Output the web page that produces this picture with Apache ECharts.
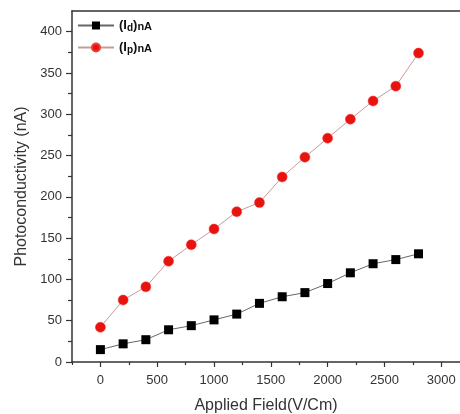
<!DOCTYPE html>
<html>
<head>
<meta charset="utf-8">
<script src="https://cdn.jsdelivr.net/npm/echarts@6/dist/echarts.min.js"></script>
<style>
  html, body { margin: 0; padding: 0; background: #fff; }
  #chart { width: 460px; height: 414px; }
</style>
</head>
<body>
<div id="chart"></div>
<script>
// applied field values (V/Cm)
var fields = [0, 200, 400, 600, 800, 1000, 1200, 1400, 1600, 1800, 2000, 2200, 2400, 2600, 2800];
// dark current Id (nA)
var idValues = [15, 22, 27, 39, 44, 51, 58, 71, 79, 84, 95, 108, 119, 124, 131];
// photo current Ip (nA)
var ipValues = [42, 75, 91, 122, 142, 161, 182, 193, 224, 248, 271, 294, 316, 334, 374];

// tick marks
var xTicks = [0, 500, 1000, 1500, 2000, 2500, 3000];
var xMinorTicks = [-250, 250, 750, 1250, 1750, 2250, 2750];
var yTicks = [0, 50, 100, 150, 200, 250, 300, 350, 400];
var yMinorTicks = [25, 75, 125, 175, 225, 275, 325, 375];

function pairs(xs, ys) {
  return xs.map(function (x, i) { return [x, ys[i]]; });
}

var chart = echarts.init(document.getElementById("chart"));

var axisCol = "#333";
var X_MIN = -250, X_MAX = 3165, Y_MIN = 0, Y_MAX = 425;

var option = {
  animation: false,
  textStyle: { fontFamily: "Liberation Sans, Arial, sans-serif" },
  grid: { left: 72, top: 11, right: 0, bottom: 52, outerBoundsMode: "none", containLabel: false },
  legend: {
    orient: "vertical",
    left: 77,
    top: 19,
    padding: 0,
    itemWidth: 36,
    itemHeight: 10,
    itemGap: 8,
    data: [
      { name: "Id", lineStyle: { color: "#666" } },
      { name: "Ip", lineStyle: { color: "#c89a98" } }
    ],
    formatter: function (name) {
      return name === "Id" ? "{b|(I}{s|d}{b|)}{n|nA}" : "{b|(I}{s|p}{b|)}{n|nA}";
    },
    textStyle: {
      color: "#111",
      rich: {
        b: { fontSize: 13, fontWeight: "bold", color: "#111" },
        s: { fontSize: 10, fontWeight: "bold", color: "#111", padding: [5, 0, 0, 0] },
        n: { fontSize: 11, fontWeight: "bold", color: "#111", padding: [3, 0, 0, 0] }
      }
    }
  },
  xAxis: [
    {
      type: "value",
      min: X_MIN,
      max: X_MAX,
      name: "Applied Field(V/Cm)",
      nameLocation: "middle",
      nameGap: 36,
      nameTextStyle: { fontSize: 16, color: axisCol },
      axisLine: { onZero: false, lineStyle: { color: axisCol, width: 1.5 } },
      axisTick: { length: 5, customValues: xTicks, lineStyle: { color: axisCol, width: 1.2 } },
      axisLabel: {
        customValues: xTicks, fontSize: 13, color: axisCol, margin: 12,
        formatter: function (v) { return String(v); }
      },
      splitLine: { show: false }
    },
    {
      // minor ticks along the bottom
      type: "value",
      position: "bottom",
      min: X_MIN,
      max: X_MAX,
      axisLine: { show: false, onZero: false },
      axisTick: { length: 3, customValues: xMinorTicks, lineStyle: { color: axisCol, width: 1.2 } },
      axisLabel: { show: false },
      splitLine: { show: false }
    },
    {
      // top frame line
      type: "value",
      position: "top",
      min: X_MIN,
      max: X_MAX,
      axisLine: { onZero: false, lineStyle: { color: axisCol, width: 1.5 } },
      axisTick: { show: false },
      axisLabel: { show: false },
      splitLine: { show: false }
    }
  ],
  yAxis: [
    {
      type: "value",
      min: Y_MIN,
      max: Y_MAX,
      name: "Photoconductivity (nA)",
      nameLocation: "middle",
      nameGap: 42,
      nameTextStyle: { fontSize: 16, color: axisCol },
      axisLine: { show: true, onZero: false, lineStyle: { color: axisCol, width: 1.5 } },
      axisTick: { show: true, length: 6, customValues: yTicks, lineStyle: { color: axisCol, width: 1.2 } },
      axisLabel: { customValues: yTicks, fontSize: 13, color: axisCol, margin: 10 },
      splitLine: { show: false }
    },
    {
      // minor ticks along the left
      type: "value",
      position: "left",
      min: Y_MIN,
      max: Y_MAX,
      axisLine: { show: false, onZero: false },
      axisTick: { show: true, length: 4, customValues: yMinorTicks, lineStyle: { color: axisCol, width: 1.2 } },
      axisLabel: { show: false },
      splitLine: { show: false }
    }
  ],
  series: [
    {
      name: "Id",
      type: "line",
      data: pairs(fields, idValues),
      symbol: "rect",
      symbolSize: 9,
      itemStyle: { color: "#000" },
      lineStyle: { color: "#666", width: 1 }
    },
    {
      name: "Ip",
      type: "line",
      data: pairs(fields, ipValues),
      symbol: "circle",
      symbolSize: 10,
      itemStyle: { color: "#e8120f", borderColor: "#f23a36", borderWidth: 0.5 },
      lineStyle: { color: "#c89a98", width: 1 }
    }
  ]
};

option && chart.setOption(option);
</script>
</body>
</html>
